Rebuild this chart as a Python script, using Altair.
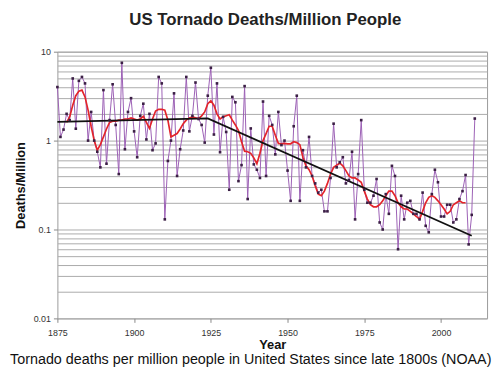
import altair as alt
import pandas as pd

FONT = "Liberation Sans"

# Annual tornado deaths per million people
years = list(range(1875, 2012))
deaths = [
    4.0, 1.1, 1.33, 2.0, 1.7, 5.0, 1.36, 4.7, 5.2, 4.4,          # 1875-1884
    1.0, 2.1, 1.0, 0.75, 0.5, 3.7, 0.55, 1.7, 4.3, 1.5,          # 1885-1894
    0.42, 7.5, 0.8, 2.1, 3.0, 1.27, 0.65, 1.9, 2.6, 1.03,        # 1895-1904
    2.0, 0.78, 0.93, 5.2, 4.4, 0.13, 0.59, 1.0, 3.4, 0.4,        # 1905-1914
    0.8, 1.3, 5.2, 1.27, 1.9, 4.5, 1.75, 1.5, 0.95, 3.2,         # 1915-1924
    6.6, 1.17, 4.4, 0.74, 1.85, 1.25, 0.28, 3.1, 2.7, 0.35,      # 1925-1934
    0.53, 4.1, 0.22, 1.37, 0.54, 0.47, 0.38, 2.75, 0.4, 1.9,     # 1935-1944
    1.5, 0.7, 2.1, 0.89, 1.0, 0.46, 0.21, 1.45, 3.2, 0.21,       # 1945-1954
    0.78, 0.5, 1.1, 0.4, 0.33, 0.26, 0.28, 0.16, 0.16, 0.38,     # 1955-1964
    1.55, 0.5, 0.57, 0.65, 0.33, 0.36, 0.75, 0.13, 0.42, 1.7,    # 1965-1974
    0.28, 0.2, 0.2, 0.24, 0.37, 0.12, 0.10, 0.25, 0.15, 0.52,    # 1975-1984
    0.40, 0.06, 0.24, 0.13, 0.2, 0.21, 0.15, 0.15, 0.13, 0.26,   # 1985-1994
    0.11, 0.093, 0.25, 0.47, 0.34, 0.14, 0.14, 0.19, 0.19, 0.12, # 1995-2004
    0.13, 0.22, 0.27, 0.41, 0.068, 0.146, 1.77,                  # 2005-2011
]

# Smoothed (red) curve
smooth_years = list(range(1878, 2009))
smooth = [
    1.6, 1.85, 2.5, 3.2, 3.6, 3.7, 3.1, 2.2, 1.45, 1.0,          # 1878-1887
    0.78, 0.9, 1.1, 1.35, 1.6, 1.65, 1.65, 1.7, 1.7, 1.75,       # 1888-1897
    1.75, 1.8, 1.75, 1.7, 1.75, 1.87, 1.6, 1.37, 1.75, 2.15,     # 1898-1907
    2.25, 2.25, 2.2, 1.7, 1.1, 1.15, 1.2, 1.35, 1.55, 1.7,       # 1908-1917
    1.8, 1.85, 1.8, 1.77, 1.9, 2.1, 2.6, 2.8, 2.5, 2.0,          # 1918-1927
    1.75, 1.85, 1.9, 1.95, 1.7, 1.5, 1.3, 0.97, 0.76, 0.75,      # 1928-1937
    0.72, 0.64, 0.55, 0.72, 1.0, 1.2, 1.45, 1.45, 1.15, 0.93,    # 1938-1947
    0.92, 0.93, 0.92, 0.92, 0.97, 0.95, 0.9, 0.65, 0.52, 0.47,   # 1948-1957
    0.4, 0.31, 0.25, 0.24, 0.27, 0.33, 0.42, 0.5, 0.53, 0.56,    # 1958-1967
    0.52, 0.46, 0.4, 0.38, 0.38, 0.36, 0.34, 0.27, 0.22, 0.19,   # 1968-1977
    0.18, 0.18, 0.19, 0.21, 0.24, 0.27, 0.27, 0.24, 0.2, 0.18,   # 1978-1987
    0.17, 0.17, 0.16, 0.15, 0.14, 0.13, 0.16, 0.2, 0.23, 0.24,   # 1988-1997
    0.23, 0.21, 0.19, 0.17, 0.15, 0.16, 0.19, 0.2, 0.21, 0.2,    # 1998-2007
    0.2,                                                         # 2008
]

# Trend line (black)
trend_years = [1875, 1924, 2010]
trend_values = [1.62, 1.78, 0.085]

x_ticks = [1875, 1900, 1925, 1950, 1975, 2000]
y_grid = [round(m * 10 ** e, 4) for e in (-2, -1, 0) for m in range(1, 10)] + [10]

df = pd.DataFrame({"Year": years, "Deaths": deaths})
df_s = pd.DataFrame({"Year": smooth_years, "Deaths": smooth})
df_t = pd.DataFrame({"Year": trend_years, "Deaths": trend_values})

is_decade = "abs(log(datum.value)/LN10 - round(log(datum.value)/LN10)) < 0.001"

x_enc = alt.X(
    "Year:Q",
    scale=alt.Scale(domain=[1875, 2015], nice=False, zero=False),
    axis=alt.Axis(
        values=x_ticks, format="d", grid=False, title="Year", labelFlush=False,
        titleFontWeight="bold", titleFontSize=13, titleFont=FONT, titleColor="#111",
        labelFont=FONT, labelFontSize=9, labelColor="#333",
        tickSize=4, tickColor="#888", domain=False, labelPadding=6, titlePadding=1,
    ),
)
y_enc = alt.Y(
    "Deaths:Q",
    scale=alt.Scale(type="log", domain=[0.01, 10], nice=False),
    axis=alt.Axis(
        values=y_grid, grid=True, gridColor="#ababab", gridWidth=1, labelFlush=False,
        labelExpr=f"{is_decade} ? format(datum.value, '~g') : ''",
        tickColor={"condition": {"test": is_decade, "value": "#888"}, "value": "transparent"},
        tickSize=4, domain=False, title="Deaths/Million",
        titleFontWeight="bold", titleFontSize=13, titleFont=FONT, titleColor="#111",
        labelFont=FONT, labelFontSize=9, labelColor="#333", labelPadding=3, titlePadding=6,
    ),
)

purple = alt.Chart(df).mark_line(color="#9b5fb5", strokeWidth=1).encode(x=x_enc, y=y_enc)
dots = alt.Chart(df).mark_square(size=7, color="#3b1f45", opacity=1).encode(x="Year:Q", y="Deaths:Q")
red = alt.Chart(df_s).mark_line(color="#e3242b", strokeWidth=1.7).encode(x="Year:Q", y="Deaths:Q")
black = alt.Chart(df_t).mark_line(color="#111111", strokeWidth=1.8).encode(x="Year:Q", y="Deaths:Q")

inner = alt.layer(purple, red, black, dots).properties(
    width=435, height=270,
    title=alt.TitleParams(
        "US Tornado Deaths/Million People", font=FONT, fontSize=17, fontWeight="bold",
        color="#222", anchor="middle", offset=19, dx=-7,
    ),
)

chart = alt.vconcat(inner).properties(
    title=alt.TitleParams(
        "Tornado deaths per million people in United States since late 1800s (NOAA)",
        orient="bottom", font=FONT, fontSize=14.5, fontWeight="normal", color="#111",
        anchor="middle", offset=2,
    ),
    padding={"left": 1, "top": 0, "right": 0, "bottom": 0},
).configure_view(stroke="#9a9a9a", strokeWidth=1).configure_concat(spacing=0)

chart.save("out.html", embed_options={"renderer": "svg", "actions": False})
